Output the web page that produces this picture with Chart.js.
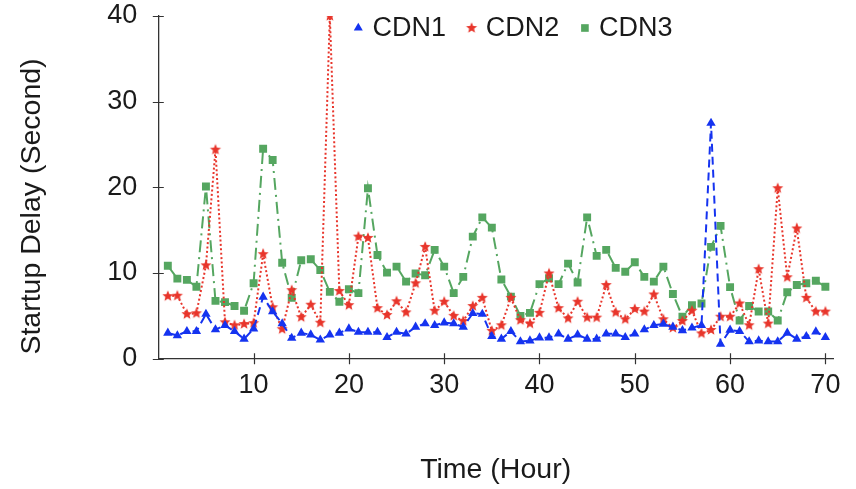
<!DOCTYPE html>
<html><head><meta charset="utf-8">
<script src="https://cdn.jsdelivr.net/npm/chart.js@4"></script>
<style>html,body{margin:0;padding:0;background:#fff;} #wrap{width:856px;height:489px;}</style>
</head><body><div id="wrap"><canvas id="c" width="856" height="489"></canvas></div>
<script>
const hours = [1,2,3,4,5,6,7,8,9,10,11,12,13,14,15,16,17,18,19,20,21,22,23,24,25,26,27,28,29,30,31,32,33,34,35,36,37,38,39,40,41,42,43,44,45,46,47,48,49,50,51,52,53,54,55,56,57,58,59,60,61,62,63,64,65,66,67,68,69,70];
const cdn1 = [3.0,2.7,3.2,3.2,5.2,3.4,3.9,3.2,2.3,3.5,7.2,5.5,4.1,2.4,3.0,2.8,2.2,2.8,3.0,3.5,3.1,3.1,3.1,2.5,3.1,2.9,3.7,4.1,3.9,4.2,4.1,3.7,5.3,5.2,2.6,2.3,3.2,2.0,2.1,2.45,2.45,2.9,2.3,2.8,2.3,2.3,2.9,2.9,2.5,2.9,3.4,3.9,4.05,3.7,3.3,3.6,3.9,27.5,1.7,3.35,3.2,2.0,2.1,2.0,2.0,3.0,2.3,2.6,3.15,2.5];
const cdn2 = [7.3,7.35,5.2,5.3,10.9,24.4,4.25,3.9,4.05,4.15,12.2,6.0,3.45,8.0,4.85,6.3,4.2,40,7.9,6.25,14.25,14.1,5.9,5.1,6.7,5.4,8.8,13.05,5.6,6.65,5.0,4.4,6.15,7.1,3.25,3.9,7.1,4.5,4.1,5.35,9.95,5.9,4.7,6.65,4.8,4.8,8.6,5.4,4.6,5.8,5.5,7.5,4.6,3.6,4.4,5.6,2.95,3.35,4.9,4.9,6.45,3.9,10.45,4.1,19.9,9.5,15.2,7.1,5.5,5.5];
const cdn3 = [10.85,9.35,9.2,8.4,20.1,6.75,6.6,6.15,5.6,8.8,24.5,23.2,11.2,7.1,11.5,11.6,10.35,7.8,6.65,8.1,7.65,19.9,12.1,10.05,10.75,9.0,9.95,9.75,12.7,10.75,7.65,9.55,14.25,16.5,15.3,9.25,7.25,5.0,5.35,8.7,9.4,8.7,11.1,8.9,16.5,12.0,12.7,10.6,10.15,11.25,9.55,9.0,10.75,7.55,4.9,6.25,6.45,13.05,15.5,8.35,4.45,6.15,5.5,5.5,4.45,7.75,8.6,8.8,9.1,8.4];
const seriesLabels = ['CDN1','CDN2','CDN3'];
const xTicks = [10,20,30,40,50,60,70];
const yTicks = [0,10,20,30,40];
const xTitle = 'Time (Hour)';
const yTitle = 'Startup Delay (Second)';

const FONT = '"Liberation Sans", Arial, Helvetica, sans-serif';
const TEXT = '#1a1a1a';
const AXIS = '#333333';
const BLUE = '#1533f0';
const RED = '#e8352b';
const GREEN = '#55a660';

function makeStar(r, color){
  const s = Math.ceil(r*2+2);
  const c = document.createElement('canvas'); c.width = s; c.height = s;
  const g = c.getContext('2d');
  g.beginPath();
  for (let k=0;k<10;k++){
    const rr = k%2===0 ? r : r*0.45;
    const a = -Math.PI/2 + k*Math.PI/5;
    g.lineTo(s/2+rr*Math.cos(a), s/2+rr*Math.sin(a));
  }
  g.closePath(); g.fillStyle=color; g.fill();
  return c;
}
const star = makeStar(5.8, RED);

function pts(arr){ return hours.map((h,i)=>({x:h, y:arr[i]})); }

const decor = {
  id:'decor',
  afterDraw(chart){
    const {ctx, chartArea:a, scales:{x,y}} = chart;
    ctx.save();
    ctx.strokeStyle = AXIS; ctx.lineWidth = 1.2;
    ctx.beginPath();
    yTicks.forEach(v=>{ const py = Math.round(y.getPixelForValue(v))+0.5; ctx.moveTo(a.left-5.5, py); ctx.lineTo(a.left+5.5, py); });
    xTicks.forEach(v=>{ const px = Math.round(x.getPixelForValue(v))+0.5; ctx.moveTo(px, a.bottom-5.5); ctx.lineTo(px, a.bottom+5.5); });
    ctx.stroke();
    ctx.restore();

    ctx.save();
    ctx.translate(32, 206.5); ctx.rotate(-Math.PI/2);
    ctx.font = '28.5px ' + FONT; ctx.fillStyle = TEXT;
    ctx.textAlign = 'center'; ctx.textBaseline = 'middle';
    ctx.fillText(yTitle, 0, 0);
    ctx.restore();

    // legend
    ctx.save();
    ctx.font = '27px ' + FONT; ctx.textBaseline = 'middle'; ctx.textAlign = 'left';
    let lx = 358.3; const ly = 29;
    chart.data.datasets.forEach(ds=>{
      ctx.fillStyle = ds.pointBackgroundColor;
      Chart.helpers.drawPoint(ctx, {pointStyle: ds.pointStyle, radius: ds.legendRadius, rotation:0, borderWidth:0}, lx, ly - 1);
      ctx.fillStyle = TEXT;
      ctx.fillText(ds.label, lx + 14.2, ly);
      lx += 14.2 + ctx.measureText(ds.label).width + 25.6;
    });
    ctx.restore();
  }
};

new Chart(document.getElementById('c'), {
  type: 'line',
  data: {
    datasets: [
      { label: seriesLabels[0], data: pts(cdn1), borderColor: BLUE, backgroundColor: BLUE, pointBackgroundColor: BLUE,
        borderWidth: 2, borderDash: [8,5], pointStyle: 'triangle', pointRadius: 5.4, pointBorderWidth: 0, legendRadius: 5.2, clip: 0, tension: 0 },
      { label: seriesLabels[1], data: pts(cdn2), borderColor: RED, backgroundColor: RED, pointBackgroundColor: RED,
        borderWidth: 2, borderDash: [2,2.4], pointStyle: star, pointRadius: 5.8, pointBorderWidth: 0, legendRadius: 5.6, clip: 0, tension: 0 },
      { label: seriesLabels[2], data: pts(cdn3), borderColor: GREEN, backgroundColor: GREEN, pointBackgroundColor: GREEN,
        borderWidth: 2, borderDash: [12,5,2,5], pointStyle: 'rect', pointRadius: 5.6, pointBorderWidth: 0, legendRadius: 5.4, clip: 0, tension: 0 }
    ]
  },
  options: {
    responsive: false, animation: false, events: [],
    layout: { padding: { top: 16, right: 23, bottom: 0, left: 0 } },
    plugins: { legend: { display: false }, tooltip: { enabled: false } },
    scales: {
      x: {
        type: 'linear', min: 0, max: 70.8,
        afterFit(s){ s.height = 130.3; s.paddingLeft = 0; s.paddingRight = 0; },
        afterBuildTicks(s){ s.ticks = xTicks.map(v=>({value:v})); },
        grid: { display: false, drawTicks: false },
        border: { display: true, color: AXIS, width: 1.3 },
        ticks: { padding: 11, color: TEXT, font: { size: 27, family: FONT }, maxRotation: 0, autoSkip: false },
        title: { display: true, text: xTitle, color: TEXT, font: { size: 28.5, family: FONT }, padding: { top: 0, bottom: 2 } }
      },
      y: {
        min: 0, max: 40,
        afterFit(s){ s.width = 158.3; s.paddingTop = 0; s.paddingBottom = 0; },
        afterBuildTicks(s){ s.ticks = yTicks.map(v=>({value:v})); },
        grid: { display: false, drawTicks: false },
        border: { display: true, color: AXIS, width: 1.3 },
        ticks: { padding: 21, color: TEXT, font: { size: 27, family: FONT } },
        title: { display: false }
      }
    }
  },
  plugins: [decor]
});
</script>
</body></html>
